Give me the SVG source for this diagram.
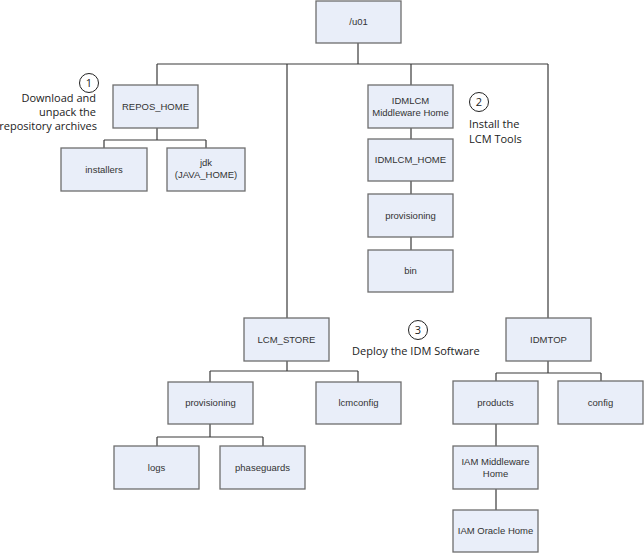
<svg xmlns="http://www.w3.org/2000/svg" width="644" height="553" viewBox="0 0 644 553">
<style>
.box{fill:#e9eef9;stroke:#6e6e6e;stroke-width:1.3}
.lbl{font-family:"Liberation Sans",Arial,sans-serif;font-size:9.5px;fill:#333;text-anchor:middle}
.con{fill:none;stroke:#3a3a3a;stroke-width:1.2}
.ann{font-family:"Open Sans","Noto Sans",sans-serif;font-size:11px;fill:#222}
.num{fill:#fff;stroke:#222;stroke-width:1}
</style>
<rect width="644" height="553" fill="#fff"/>
<g id="connectors">
<path class="con" d="M358 43V64M157 64H548M157 64V85M287 64V318M411 64V85M548 64V318"/>
<path class="con" d="M157 128V140M104 140H206M104 140V148M206 140V148"/>
<path class="con" d="M411 128V139M411 181V194M411 237V250"/>
<path class="con" d="M287 361V371M210 371H358M210 371V382M358 371V382"/>
<path class="con" d="M210 424V437M157 437H263M157 437V446M263 437V446"/>
<path class="con" d="M548 361V373M496 373H601M496 373V381M601 373V381"/>
<path class="con" d="M496 424V446M496 489V510"/>
</g>
<g id="u01"><rect class="box" x="316" y="1" width="85" height="42"/><text class="lbl" x="358.5" y="25">/u01</text></g>
<g id="repos_home"><rect class="box" x="113" y="85" width="85" height="43"/><text class="lbl" x="155.5" y="110">REPOS_HOME</text></g>
<g id="installers"><rect class="box" x="61" y="148" width="86" height="43"/><text class="lbl" x="104" y="173">installers</text></g>
<g id="jdk"><rect class="box" x="167" y="148" width="78" height="43"/><text class="lbl" x="206" y="166">jdk</text><text class="lbl" x="206" y="178">(JAVA_HOME)</text></g>
<g id="idmlcm_mw"><rect class="box" x="368" y="85" width="85" height="43"/><text class="lbl" x="410.5" y="104">IDMLCM</text><text class="lbl" x="410.5" y="116">Middleware Home</text></g>
<g id="idmlcm_home"><rect class="box" x="368" y="139" width="85" height="42"/><text class="lbl" x="410.5" y="163">IDMLCM_HOME</text></g>
<g id="provisioning_lcm"><rect class="box" x="368" y="194" width="85" height="43"/><text class="lbl" x="410.5" y="219">provisioning</text></g>
<g id="bin"><rect class="box" x="368" y="250" width="85" height="42"/><text class="lbl" x="410.5" y="274">bin</text></g>
<g id="lcm_store"><rect class="box" x="244" y="318" width="85" height="43"/><text class="lbl" x="286.5" y="343">LCM_STORE</text></g>
<g id="provisioning_store"><rect class="box" x="168" y="382" width="85" height="42"/><text class="lbl" x="210.5" y="406">provisioning</text></g>
<g id="lcmconfig"><rect class="box" x="316" y="382" width="85" height="42"/><text class="lbl" x="358.5" y="406">lcmconfig</text></g>
<g id="logs"><rect class="box" x="114" y="446" width="85" height="43"/><text class="lbl" x="156.5" y="471">logs</text></g>
<g id="phaseguards"><rect class="box" x="220" y="446" width="85" height="43"/><text class="lbl" x="262.5" y="471">phaseguards</text></g>
<g id="idmtop"><rect class="box" x="506" y="318" width="85" height="43"/><text class="lbl" x="548.5" y="343">IDMTOP</text></g>
<g id="products"><rect class="box" x="453" y="381" width="85" height="43"/><text class="lbl" x="495.5" y="406">products</text></g>
<g id="config"><rect class="box" x="558" y="381" width="85" height="43"/><text class="lbl" x="600.5" y="406">config</text></g>
<g id="iam_mw"><rect class="box" x="453" y="446" width="85" height="43"/><text class="lbl" x="495.5" y="465">IAM Middleware</text><text class="lbl" x="495.5" y="477">Home</text></g>
<g id="iam_oh"><rect class="box" x="453" y="510" width="85" height="42"/><text class="lbl" x="495.5" y="534">IAM Oracle Home</text></g>
<g id="step1"><circle class="num" cx="89" cy="83" r="9.5"/><text class="ann" x="89" y="87" text-anchor="middle">1</text>
<text class="ann" x="96" y="102" text-anchor="end">Download and</text><text class="ann" x="96" y="116" text-anchor="end">unpack the</text><text class="ann" x="97" y="130" text-anchor="end">repository archives</text></g>
<g id="step2"><circle class="num" cx="479" cy="102" r="9.5"/><text class="ann" x="479" y="106" text-anchor="middle">2</text>
<text class="ann" x="469" y="128">Install the</text><text class="ann" x="469" y="143">LCM Tools</text></g>
<g id="step3"><circle class="num" cx="418" cy="330" r="9.5"/><text class="ann" x="418" y="334" text-anchor="middle">3</text>
<text class="ann" x="352" y="355">Deploy the IDM Software</text></g>
</svg>
